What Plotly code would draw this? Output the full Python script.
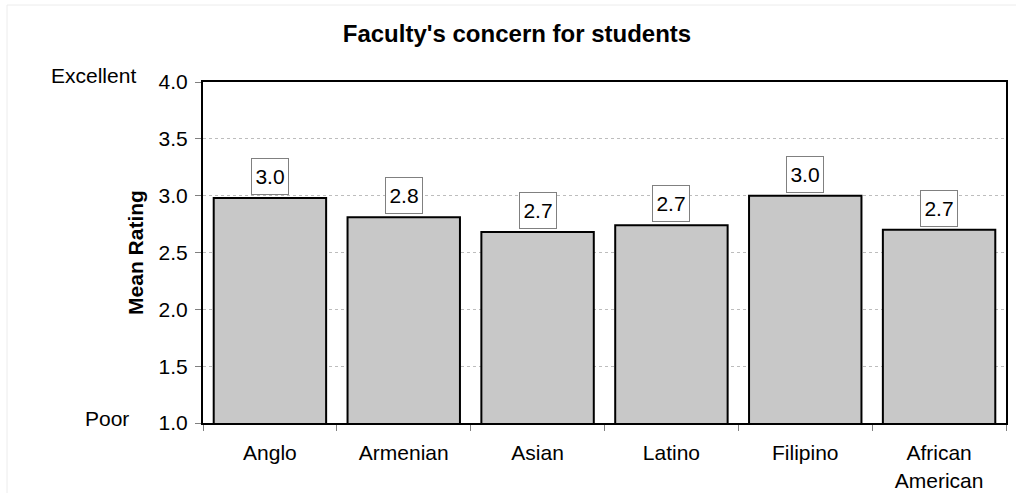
import plotly.graph_objects as go

# Mean rating of faculty's concern for students, by group
groups = ["Anglo", "Armenian", "Asian", "Latino", "Filipino", "African<br>American"]
mean_rating = [2.98, 2.81, 2.68, 2.74, 3.00, 2.70]
y_ticks = [1.0, 1.5, 2.0, 2.5, 3.0, 3.5, 4.0]

W, H = 1016, 493
ML, MR, MT, MB = 203, 10, 82, 70
FONT = "Liberation Sans, Arial, sans-serif"

fig = go.Figure()
fig.add_trace(go.Bar(
    x=groups,
    y=mean_rating,
    marker=dict(color="#c8c8c8", line=dict(color="#000000", width=2)),
    hoverinfo="x+y",
))

# value boxes above each bar
for g, v in zip(groups, mean_rating):
    fig.add_annotation(
        x=g, y=v, xref="x", yref="y",
        text=f"{v:.1f}", showarrow=False,
        yanchor="bottom", yshift=3,
        width=30, height=29, align="center", valign="middle",
        font=dict(family=FONT, size=21, color="#000000"),
        bgcolor="#ffffff", bordercolor="#808080", borderwidth=1, borderpad=3,
    )

# scale end descriptors
pw = W - ML - MR
ph = H - MT - MB
def px_x(p):
    return (p - ML) / pw
def px_y(p):
    return (H - MB - p) / ph

fig.add_annotation(x=px_x(138), y=px_y(75), xref="paper", yref="paper",
                   text="Excellent", showarrow=False, xanchor="right", yanchor="middle",
                   font=dict(family=FONT, size=21, color="#000000"))
fig.add_annotation(x=px_x(131), y=px_y(418), xref="paper", yref="paper",
                   text="Poor", showarrow=False, xanchor="right", yanchor="middle",
                   font=dict(family=FONT, size=21, color="#000000"))

# faint outer frame
fig.add_shape(type="path", xref="paper", yref="paper",
              path=f"M {px_x(7)} {px_y(H + 5)} L {px_x(7)} {px_y(5)} L {px_x(W + 5)} {px_y(5)}",
              line=dict(color="#ececec", width=1), layer="below")

fig.update_layout(
    width=W, height=H,
    margin=dict(l=ML, r=MR, t=MT, b=MB, autoexpand=False),
    paper_bgcolor="#ffffff",
    plot_bgcolor="#ffffff",
    showlegend=False,
    bargap=0.16,
    font=dict(family=FONT, size=21, color="#000000"),
    title=dict(text="<b>Faculty's concern for students</b>", x=517 / W, xref="container",
               xanchor="center", y=1 - 34 / H, yref="container", yanchor="middle",
               font=dict(family=FONT, size=24, color="#000000"), automargin=False),
    xaxis=dict(
        showline=True, linecolor="#000000", linewidth=2, mirror=True,
        ticks="outside", tickson="boundaries", ticklen=6, tickcolor="#808080", tickwidth=1,
        showgrid=False, tickfont=dict(family=FONT, size=21), ticklabelstandoff=10,
        automargin=False,
    ),
    yaxis=dict(
        range=[1.0, 4.0], tickvals=y_ticks, ticktext=[f"{t:.1f}" for t in y_ticks],
        showline=True, linecolor="#000000", linewidth=2, mirror=True,
        ticks="outside", ticklen=6, tickcolor="#808080", tickwidth=1,
        showgrid=True, gridcolor="#bdbdbd", gridwidth=1, griddash="dot",
        zeroline=False, tickfont=dict(family=FONT, size=21), ticklabelstandoff=3,
        title=dict(text="<b>Mean Rating</b>", standoff=9, font=dict(family=FONT, size=21)),
        automargin=False,
    ),
)

fig.write_html("out.html")
